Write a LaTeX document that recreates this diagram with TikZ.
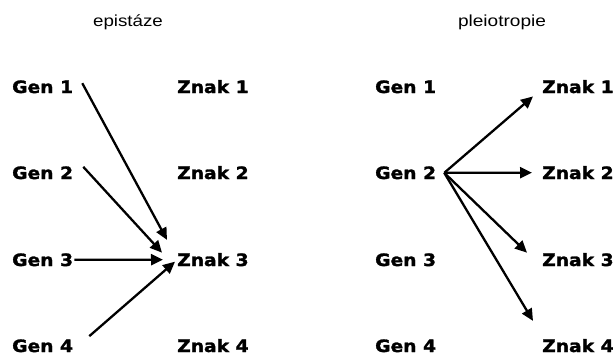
\documentclass[tikz,border=0pt]{standalone}
\usepackage{fontspec}
\setmainfont{Liberation Sans}
\newfontfamily\heavyfont{DejaVu Sans Bold}[FakeBold=1.6]
\usetikzlibrary{arrows.meta}
\tikzset{
  lbl/.style={inner sep=0pt, anchor=base west, font=\heavyfont\fontsize{17}{19}\selectfont},
  ttl/.style={inner sep=0pt, anchor=base, font=\fontsize{16}{19}\selectfont},
  arr/.style={line width=2.3pt, -{Triangle[length=12pt,width=11pt]}}
}
\newcommand{\wide}[1]{\scalebox{1.1}[1]{#1}}
\begin{document}
\begin{tikzpicture}[x=1pt,y=-1pt]
\useasboundingbox (0,0) rectangle (615,357);
% titles
\node[ttl] (t1) at (128,26) {\scalebox{1.17}[1]{epistáze}};
\node[ttl] (t2) at (502,26) {\scalebox{1.19}[1]{pleiotropie}};
% left
\node[lbl] (lg1) at (12,93) {\wide{Gen 1}};
\node[lbl] (lg2) at (12,179) {\wide{Gen 2}};
\node[lbl] (lg3) at (12,266) {\wide{Gen 3}};
\node[lbl] (lg4) at (12,352) {\wide{Gen 4}};
\node[lbl] (lz1) at (177,93) {\wide{Znak 1}};
\node[lbl] (lz2) at (177,179) {\wide{Znak 2}};
\node[lbl] (lz3) at (177,266) {\wide{Znak 3}};
\node[lbl] (lz4) at (177,352) {\wide{Znak 4}};
% right
\node[lbl] (rg1) at (375,93) {\wide{Gen 1}};
\node[lbl] (rg2) at (375,179) {\wide{Gen 2}};
\node[lbl] (rg3) at (375,266) {\wide{Gen 3}};
\node[lbl] (rg4) at (375,352) {\wide{Gen 4}};
\node[lbl] (rz1) at (542,93) {\wide{Znak 1}};
\node[lbl] (rz2) at (542,179) {\wide{Znak 2}};
\node[lbl] (rz3) at (542,266) {\wide{Znak 3}};
\node[lbl] (rz4) at (542,352) {\wide{Znak 4}};
% epistasis arrows
\draw[arr] ([shift={(9,3)}]lg1.north east) -- ([shift={(-10,-13)}]lz3.north west);
\draw[arr] ([shift={(10,-6)}]lg2.east) -- ([shift={(-15,-7)}]lz3.west);
\draw[arr] ([shift={(1,0)}]lg3.east) -- ([shift={(-14,0)}]lz3.west);
\draw[arr] ([shift={(16,-3)}]lg4.north east) -- ([shift={(-2,2)}]lz3.west);
% pleiotropy arrows
\coordinate (src) at ([shift={(8,0)}]rg2.east);
\draw[arr] (src) -- ([shift={(-9,3)}]rz1.south west);
\draw[arr] (src) -- ([shift={(-10,0)}]rz2.west);
\draw[arr] (src) -- ([shift={(-15,-7)}]rz3.west);
\draw[arr] (src) -- ([shift={(-9,-18)}]rz4.north west);
\end{tikzpicture}
\end{document}
